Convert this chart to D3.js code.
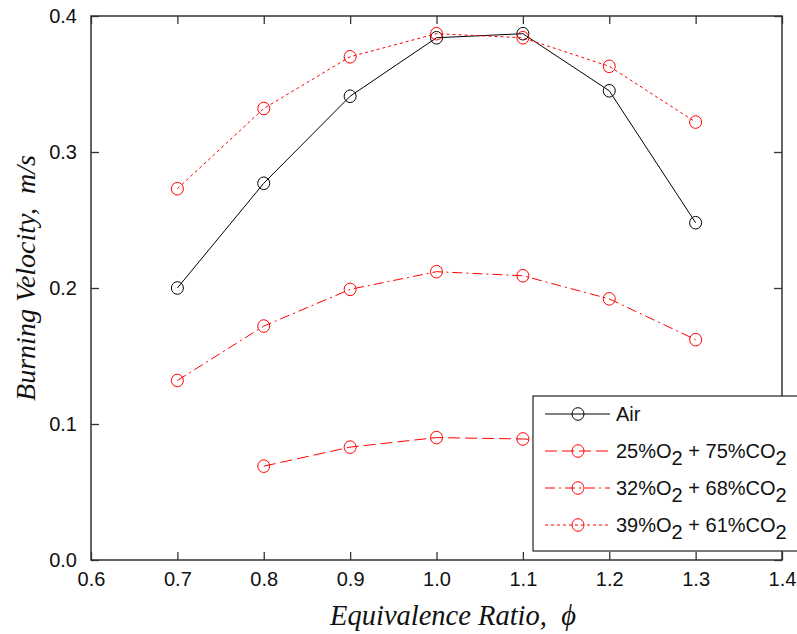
<!DOCTYPE html>
<html>
<head>
<meta charset="utf-8">
<script src="https://cdn.jsdelivr.net/npm/d3@7"></script>
<style>
  html, body { margin: 0; padding: 0; background: #fff; }
  svg { display: block; }
</style>
</head>
<body>
<svg id="chart" width="797" height="634"></svg>
<script>
// Burning velocity vs. equivalence ratio for air and O2/CO2 oxidizers
const phiAir = [0.7, 0.8, 0.9, 1.0, 1.1, 1.2, 1.3];
const airVel = [0.200, 0.277, 0.341, 0.384, 0.387, 0.345, 0.248];

const phi25 = [0.8, 0.9, 1.0, 1.1, 1.2, 1.3];
const o2_25Vel = [0.069, 0.083, 0.090, 0.089, 0.085, 0.078];

const phi32 = [0.7, 0.8, 0.9, 1.0, 1.1, 1.2, 1.3];
const o2_32Vel = [0.132, 0.172, 0.199, 0.212, 0.209, 0.192, 0.162];

const phi39 = [0.7, 0.8, 0.9, 1.0, 1.1, 1.2, 1.3];
const o2_39Vel = [0.273, 0.332, 0.370, 0.387, 0.384, 0.363, 0.322];

const xTicks = [0.6, 0.7, 0.8, 0.9, 1.0, 1.1, 1.2, 1.3, 1.4];
const yTicks = [0.0, 0.1, 0.2, 0.3, 0.4];

const series = [
  { name: "Air", pct: null, xs: phiAir, ys: airVel, color: "#000", dash: null },
  { name: "25", pct: ["25", "75"], xs: phi25, ys: o2_25Vel, color: "#ff0000", dash: "12,5" },
  { name: "32", pct: ["32", "68"], xs: phi32, ys: o2_32Vel, color: "#ff0000", dash: "10,4,2,4" },
  { name: "39", pct: ["39", "61"], xs: phi39, ys: o2_39Vel, color: "#ff0000", dash: "3,3" }
];

const svg = d3.select("#chart");
const L = 91, R = 782, T = 16, B = 560;

const x = d3.scaleLinear().domain([0.6, 1.4]).range([L, R]);
const y = d3.scaleLinear().domain([0, 0.4]).range([B, T]);

const axisColor = "#333";
const tickFont = "'Liberation Sans', Arial, sans-serif";

// Data lines and markers, clipped to the axes box
svg.append("clipPath").attr("id", "plotClip")
  .append("rect").attr("x", L).attr("y", T).attr("width", R - L).attr("height", B - T);

const plot = svg.append("g").attr("clip-path", "url(#plotClip)");
const line = d3.line().x(d => x(d[0])).y(d => y(d[1]));

series.forEach(s => {
  const pts = s.xs.map((v, i) => [v, s.ys[i]]);
  plot.append("path")
    .datum(pts)
    .attr("d", line)
    .attr("fill", "none")
    .attr("stroke", s.color)
    .attr("stroke-width", 1)
    .attr("stroke-dasharray", s.dash);
  plot.selectAll(null)
    .data(pts)
    .enter().append("ellipse")
    .attr("cx", d => x(d[0]))
    .attr("cy", d => y(d[1]))
    .attr("rx", 6)
    .attr("ry", 6.3)
    .attr("fill", "none")
    .attr("stroke", s.color)
    .attr("stroke-width", 1);
});

// Axes with inward ticks on all four sides
const tickLen = 8;
const axes = svg.append("g");
axes.append("g").attr("transform", `translate(0,${B})`)
  .call(d3.axisBottom(x).tickValues(xTicks).tickSizeInner(-tickLen).tickSizeOuter(0).tickPadding(12).tickFormat(d3.format(".1f")));
axes.append("g").attr("transform", `translate(0,${T})`)
  .call(d3.axisTop(x).tickValues(xTicks).tickSizeInner(-tickLen).tickSizeOuter(0).tickFormat(""));
axes.append("g").attr("transform", `translate(${L},0)`)
  .call(d3.axisLeft(y).tickValues(yTicks).tickSizeInner(-tickLen).tickSizeOuter(0).tickPadding(14).tickFormat(d3.format(".1f")));
axes.append("g").attr("transform", `translate(${R},0)`)
  .call(d3.axisRight(y).tickValues(yTicks).tickSizeInner(-tickLen).tickSizeOuter(0).tickFormat(""));

axes.selectAll(".domain").remove();
axes.selectAll(".tick line").attr("stroke", axisColor).attr("stroke-width", 1.3);
axes.selectAll(".tick text")
  .attr("fill", "#111")
  .style("font-family", tickFont)
  .style("font-size", "20px");

svg.append("rect")
  .attr("x", L).attr("y", T).attr("width", R - L).attr("height", B - T)
  .attr("fill", "none").attr("stroke", axisColor).attr("stroke-width", 1.5);

// Axis titles
const serif = "'Liberation Serif', 'Times New Roman', serif";
const xt = svg.append("text")
  .attr("x", 453).attr("y", 625)
  .attr("text-anchor", "middle")
  .style("white-space", "pre")
  .style("font-family", serif).style("font-style", "italic").style("font-size", "28.5px")
  .attr("fill", "#111");
xt.append("tspan").text("Equivalence Ratio,  ");
xt.append("tspan").text("\u03d5");

svg.append("text")
  .attr("transform", "translate(35,278) rotate(-90)")
  .attr("text-anchor", "middle")
  .style("white-space", "pre")
  .style("font-family", serif).style("font-style", "italic").style("font-size", "28px")
  .attr("fill", "#111")
  .text("Burning Velocity,  m/s");

// Legend
const lg = svg.append("g");
lg.append("rect")
  .attr("x", 533).attr("y", 396).attr("width", 280).attr("height", 155)
  .attr("fill", "#fff").attr("stroke", "#222").attr("stroke-width", 1.2);

const rowY = [414, 451, 488, 525];
series.forEach((s, i) => {
  const yy = rowY[i];
  lg.append("line")
    .attr("x1", 545).attr("x2", 610).attr("y1", yy).attr("y2", yy)
    .attr("stroke", s.color).attr("stroke-width", 1)
    .attr("stroke-dasharray", s.dash);
  lg.append("ellipse")
    .attr("cx", 578).attr("cy", yy).attr("rx", 6).attr("ry", 6.3)
    .attr("fill", "none").attr("stroke", s.color).attr("stroke-width", 1);
  const t = lg.append("text")
    .attr("x", 616).attr("y", yy + 7)
    .style("font-family", tickFont).style("font-size", "20px")
    .attr("fill", "#111");
  if (!s.pct) {
    t.text(s.name);
  } else {
    t.append("tspan").text(`${s.pct[0]}%O`);
    t.append("tspan").attr("dy", 7).text("2");
    t.append("tspan").attr("dy", -7).text(` + ${s.pct[1]}%CO`);
    t.append("tspan").attr("dy", 7).text("2");
  }
});
</script>
</body>
</html>
